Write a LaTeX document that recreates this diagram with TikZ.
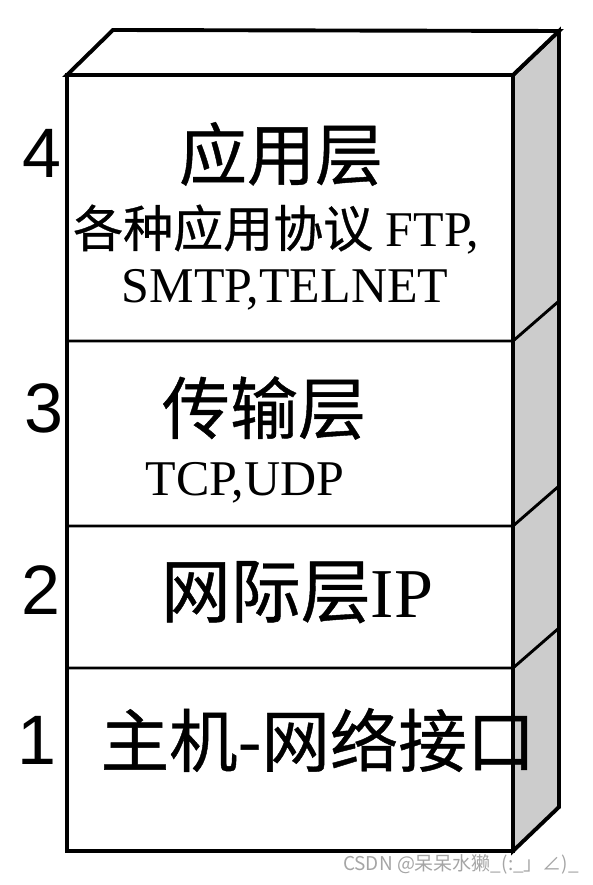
\documentclass[tikz,border=0pt]{standalone}
\usepackage{fontspec}
\setmainfont{Liberation Serif}
\newfontfamily\cjk[FakeBold=0.6]{Noto Sans CJK SC}
\newfontfamily\cjkwm{Noto Sans CJK SC}
\newfontfamily\arial{Liberation Sans}
\definecolor{sidegray}{RGB}{204,204,204}
\definecolor{wmgray}{RGB}{165,165,165}
\tikzset{
  outer/.style={line width=3.9pt, line join=miter},
  divider/.style={line width=2.9pt},
  num/.style={inner sep=0pt, font=\arial\fontsize{70}{70}\selectfont},
  title/.style={inner sep=0pt, font=\cjk\fontsize{68}{68}\selectfont},
  sub/.style={inner sep=0pt, anchor=base, font=\fontsize{50}{50}\selectfont},
}
\begin{document}
\begin{tikzpicture}[x=1pt,y=-1pt]
\useasboundingbox (0,0) rectangle (592,885);
% corners
\coordinate (FTL) at (67,75);
\coordinate (FTR) at (513,75);
\coordinate (FBL) at (67,851);
\coordinate (FBR) at (513,851);
\coordinate (BTL) at (113,30);
\coordinate (BTR) at (559,31);
\coordinate (BBR) at (559,807);
% side face
\draw[outer, fill=sidegray] (FTR) -- (BTR) -- (BBR) -- (FBR) -- cycle;
% top face
\draw[outer, fill=white] (FTL) -- (BTL) -- (BTR) -- (FTR) -- cycle;
% front face
\draw[outer, fill=white] (FTL) rectangle (FBR);
% dividers
\coordinate (d1l) at (67,341); \coordinate (d1r) at (513,341); \coordinate (d1b) at (559,301);
\coordinate (d2l) at (67,526); \coordinate (d2r) at (513,526); \coordinate (d2b) at (559,486);
\coordinate (d3l) at (67,668); \coordinate (d3r) at (513,668); \coordinate (d3b) at (559,628);
\draw[divider] (d1l) -- (d1r) -- (d1b);
\draw[divider] (d2l) -- (d2r) -- (d2b);
\draw[divider] (d3l) -- (d3r) -- (d3b);
% layer numbers
\node[num] (n4) at (41.5,153) {4};
\node[num] (n3) at (43.5,408) {3};
\node[num] (n2) at (41,590) {2};
\node[num] (n1) at (37,740) {1};
% layer 4
\node[title] (t4) at (281,154) {应用层};
\node[sub] (s4a) at (276,247) {{\cjk 各种应用协议} FTP,};
\node[sub] (s4b) at (285,302) {SMTP,TELNET};
% layer 3
\node[title] (t3) at (264,408) {传输层};
\node[sub, font=\fontsize{50}{50}\selectfont] (s3) at (245,495) {TCP,UDP};
% layer 2
\node[inner sep=0pt, anchor=base, font=\fontsize{70}{70}\selectfont] (t2) at (297,617) {{\cjk 网际层}IP};
% layer 1
\node[title, font=\cjk\fontsize{68.5}{68.5}\selectfont] (t1) at (318,740) {主机-网络接口};
% watermark
\node[inner sep=0pt, text=wmgray, font=\cjkwm\fontsize{19}{19}\selectfont] (wm) at (461,864) {CSDN @呆呆水獭\_(:\_」∠)\_};
\end{tikzpicture}
\end{document}
